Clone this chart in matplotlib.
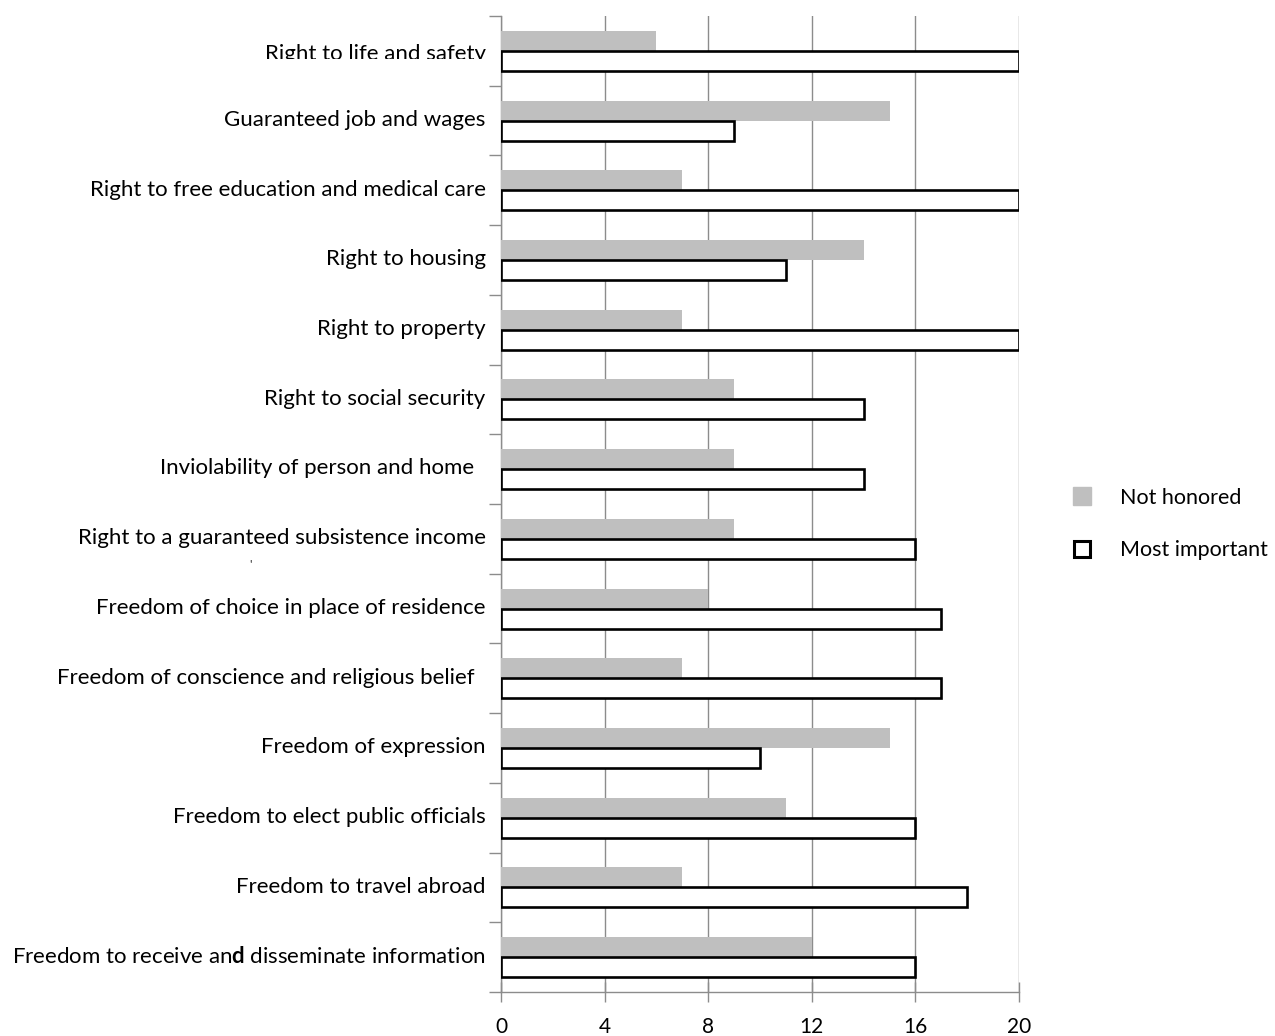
import matplotlib
matplotlib.use("Agg")
import matplotlib.pyplot as plt
import matplotlib.transforms as mtransforms
from matplotlib.lines import Line2D
import numpy as np

plt.rcParams["font.family"] = ["Lato", "DejaVu Sans"]
plt.rcParams["mathtext.fontset"] = "custom"
plt.rcParams["mathtext.rm"] = "Lato"
plt.rcParams["mathtext.bf"] = "Lato:bold"

# survey answers per right (counts)
rights = [
    "Right to life and safety",
    "Guaranteed job and wages",
    "Right to free education and medical care",
    "Right to housing",
    "Right to property",
    "Right to social security",
    "Inviolability of person and home  ",
    "Right to a guaranteed subsistence income",
    "Freedom of choice in place of residence",
    "Freedom of conscience and religious belief  ",
    "Freedom of expression",
    "Freedom to elect public officials",
    "Freedom to travel abroad",
    r"Freedom to receive an$\mathbf{d}$ disseminate information",
]
not_honored = [6, 15, 7, 14, 7, 9, 9, 9, 8, 7, 15, 11, 7, 12]
most_important = [20, 9, 20, 11, 20, 14, 14, 16, 17, 17, 10, 16, 18, 16]
xticks = [0, 4, 8, 12, 16, 20]

W, H = 1275, 1036
fig = plt.figure(figsize=(W / 100, H / 100), dpi=100)
ax = fig.add_axes([501 / W, 1 - 992 / H, 518 / W, 976 / H])

y = np.arange(len(rights))
h = 0.287
ax.barh(y - h / 2, not_honored, height=h, color="#bfbfbf", zorder=3)
ax.barh(y + h / 2, most_important, height=h, facecolor="white",
        edgecolor="black", linewidth=1.9, zorder=3)

ax.set_xlim(0, 20)
ax.set_ylim(len(rights) - 0.5, -0.5)
ax.set_xticks(xticks)
ax.set_xticklabels([str(v) for v in xticks], fontsize=15)
ax.xaxis.grid(True, color="#8c8c8c", linewidth=1.0, zorder=0)

# category names centred in each band, tick marks on the band edges
ax.set_yticks(y)
ax.set_yticklabels(rights, fontsize=16)
ax.set_yticks(np.arange(len(rights) + 1) - 0.5, minor=True)
ax.tick_params(axis="y", which="major", length=0, pad=11)
ax.tick_params(axis="y", which="minor", length=9, width=1.0, color="#8c8c8c")
ax.tick_params(axis="x", length=14, width=1.0, color="#8c8c8c", direction="inout", pad=11)

shift = mtransforms.ScaledTranslation(0, 2 / 72, fig.dpi_scale_trans)
for lbl in ax.get_yticklabels():
    lbl.set_transform(lbl.get_transform() + shift)

# the top label is cut off just under its baseline
first = ax.get_yticklabels()[0]
first.set_transform(first.get_transform()
                    + mtransforms.ScaledTranslation(0, -3 / 72, fig.dpi_scale_trans))
first.set_clip_box(mtransforms.Bbox([[0, H - 59], [501, H]]))
first.set_clip_on(True)

for side in ["top", "right"]:
    ax.spines[side].set_visible(False)
for side in ["left", "bottom"]:
    ax.spines[side].set_color("#8c8c8c")
    ax.spines[side].set_linewidth(1.0)

handles = [
    Line2D([], [], linestyle="none", marker="s", markersize=13,
           markerfacecolor="#bfbfbf", markeredgecolor="#bfbfbf"),
    Line2D([], [], linestyle="none", marker="s", markersize=11,
           markerfacecolor="white", markeredgecolor="black", markeredgewidth=2.2),
]
fig.legend(handles, ["Not honored", "Most important"], loc="center left",
           bbox_to_anchor=(1052 / W, 1 - 524 / H), frameon=False,
           fontsize=15.5, handlelength=1.0, handletextpad=1.25, labelspacing=1.5)

fig.text(250 / W, 1 - 566 / H, "'", fontsize=9, color="#333333",
         ha="center", va="center")

fig.savefig("out.png", dpi=100)
